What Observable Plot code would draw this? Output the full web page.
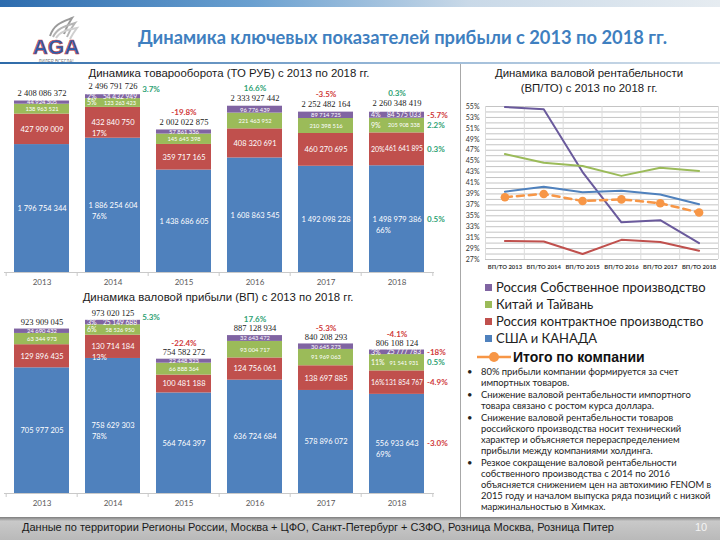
<!DOCTYPE html>
<html><head><meta charset="utf-8">
<script src="https://cdn.jsdelivr.net/npm/d3@7"></script>
<script src="https://cdn.jsdelivr.net/npm/@observablehq/plot@0.6"></script>
<style>
body{margin:0;width:720px;height:540px;overflow:hidden;background:#fff;position:relative;font-family:"Liberation Sans",Arial,sans-serif}
.abs{position:absolute}
.ctitle{position:absolute;font-size:11.4px;color:#1a1a1a;white-space:nowrap;transform:translateX(-50%);text-align:center;line-height:15px}
#legend .it{position:absolute;left:30px;font-family:Lato,sans-serif;font-size:13px;color:#222;white-space:nowrap;line-height:16px}
#legend .sw{display:inline-block;width:7px;height:7px;margin-right:4px;vertical-align:1px}
#bul{position:absolute;left:466px;top:366px;font-family:Lato,sans-serif;font-size:9.4px;color:#222;line-height:11px}
#bul .b{position:relative;padding-left:15px;white-space:nowrap;margin-bottom:1px}
#bul .b:before{content:"•";position:absolute;left:1px;top:0}
</style></head><body>
<div class="abs" style="left:0;top:0;width:720px;height:7px;background:linear-gradient(to right,#2d6cae,#6aa0d0 35%,#c9d9e8 65%,#e6ecf1)"></div>
<svg class="abs" style="left:28px;top:10px" width="60" height="56">
  <path d="M22 26 C26 14,34 12,44 8 C40 14,38 18,36 24" fill="none" stroke="#9a9a9a" stroke-width="2"/>
  <path d="M25 27 C29 18,37 16,47 13 C43 18,41 22,39 27" fill="none" stroke="#b5b5b5" stroke-width="2"/>
  <path d="M28 28 C32 21,40 20,49 18 C46 22,44 25,42 29" fill="none" stroke="#cfcfcf" stroke-width="2"/>
  <text x="28" y="44" text-anchor="middle" font-family="Liberation Sans" font-weight="bold" font-size="21" fill="#2a5fae" stroke="#c83a3a" stroke-width="0.6">AGA</text>
  <text x="28" y="53" text-anchor="middle" font-family="Liberation Sans" font-size="4.5" fill="#777">ЛИДЕР ВСЕГДА!</text>
</svg>
<div class="abs" style="left:138px;top:26px;font-family:Lato,sans-serif;font-weight:bold;font-size:18.3px;color:#3f7fc0;white-space:nowrap">Динамика ключевых показателей прибыли с 2013 по 2018 гг.</div>
<div class="abs" style="left:0;top:62px;width:720px;height:2px;background:linear-gradient(to right,#2d6aa8,#8fb2d4 50%,#d5e0ea)"></div>
<div class="abs" style="left:460px;top:64px;width:1px;height:453px;background:#a8a8a8"></div>

<div class="ctitle" style="left:229px;top:66px">Динамика товарооборота (ТО РУБ) с 2013 по 2018 гг.</div>
<div class="ctitle" style="left:218px;top:290px">Динамика валовой прибыли (ВП) с 2013 по 2018 гг.</div>
<div class="ctitle" style="left:589px;top:66px">Динамика валовой рентабельности<br>(ВП/ТО) с 2013 по 2018 гг.</div>

<div id="c1" class="abs" style="left:0;top:80px"></div>
<div id="c2" class="abs" style="left:0;top:304px"></div>
<div id="c3" class="abs" style="left:455px;top:98px"></div>

<div id="legend" class="abs" style="left:455px;top:279px;width:265px;height:90px"></div>
<div id="bul"></div>

<div class="abs" style="left:0;top:517px;width:720px;height:23px;background:linear-gradient(to bottom,#7d7d7d 0,#c9c9c9 18%,#b9b9b9 100%)"></div>
<div class="abs" style="left:22px;top:521px;font-family:'Liberation Sans',sans-serif;font-size:11px;color:#1a1a1a;white-space:nowrap">Данные по территории Регионы России, Москва + ЦФО, Санкт-Петербург + СЗФО, Розница Москва, Розница Питер</div>
<div class="abs" style="left:695px;top:521px;font-family:'Liberation Sans',sans-serif;font-size:11px;color:#f4f4f4">10</div>

<script>
// ---------- data ----------
const years = ["2013","2014","2015","2016","2017","2018"];
const seriesKeys = ["usa","ruc","cn","ruo"]; // bottom -> top
const seriesNames = ["США и КАНАДА","Россия контрактное производство","Китай и Тайвань","Россия Собственное производство"];
const seriesColors = ["#4F81BD","#C0504D","#9BBB59","#8064A2"];

// Товарооборот (ТО РУБ)
const toUSA = [1796754344,1886254604,1438686605,1608863545,1492098228,1498979386];
const toRuC = [427909009,432840750,359717165,408320691,460270695,461641895];
const toCN  = [138963521,123263423,145645398,221463952,210398516,205908338];
const toRuO = [44924305,54432949,57861336,96776439,89714725,84575033];
const toTotal = [2408086372,2496791726,2002022875,2333927442,2252482164,2260348419];
const toTotalChange = ["","3.7%","-19.8%","16.6%","-3.5%","0.3%"];
const toShare2014 = ["76%","17%","5%","2%"];
const toShare2018 = ["66%","20%","9%","4%"];
const toChange2018 = ["0.5%","0.3%","2.2%","-5.7%"];

// Валовая прибыль (ВП)
const vpUSA = [705977205,758629303,564764397,636724684,578896072,556933643];
const vpRuC = [129896435,130714184,100481188,124756061,138697885,131854767];
const vpCN  = [63344973,58526950,66888364,93004717,91969063,91541931];
const vpRuO = [24690432,25149688,22448323,32643472,30645273,25777783];
const vpTotal = [923909045,973020125,754582272,887128934,840208293,806108124];
const vpTotalChange = ["","5.3%","-22.4%","17.6%","-5.3%","-4.1%"];
const vpShare2014 = ["78%","13%","6%","3%"];
const vpShare2018 = ["69%","16%","11%","3%"];
const vpChange2018 = ["-3.0%","-4.9%","0.5%","-18%"];

// Валовая рентабельность (ВП/ТО), %
const gmCats = ["ВП/ТО 2013","ВП/ТО 2014","ВП/ТО 2015","ВП/ТО 2016","ВП/ТО 2017","ВП/ТО 2018"];
const gmRuO = [54.9,54.5,43.0,33.8,34.2,30.0];
const gmCN  = [46.3,44.7,44.1,42.3,43.8,43.2];
const gmRuC = [30.4,30.3,28.0,30.6,30.2,28.6];
const gmUSA = [39.4,40.3,39.3,39.6,38.9,37.1];
const gmTotal = [38.4,39.0,37.7,38.0,37.3,35.6];
const gmTotalName = "Итого по компании";
const gmTotalColor = "#F79646";

const bullets = [
  ["80% прибыли компании формируется за счет","импортных товаров."],
  ["Снижение валовой рентабельности импортного","товара связано с ростом курса доллара."],
  ["Снижение валовой рентабельности товаров","российского производства носит технический","характер и объясняется перераспределением","прибыли между компаниями холдинга."],
  ["Резкое сокращение валовой рентабельности","собственного производства с 2014 по 2016","объясняется снижением цен на автохимию FENOM в","2015 году и началом выпуска ряда позиций с низкой","маржинальностью в Химках."]
];

// ---------- helpers ----------
const fmt = v => d3.format(",")(v).replace(/,/g, "\u00a0");
const RED = "#D03A3A", GREEN = "#2EA274";

function buildRows(cols, share2014, share2018) {
  const rows = [];
  years.forEach((y, i) => seriesKeys.forEach((k, j) => {
    const pct = y === "2014" ? share2014[j] : y === "2018" ? share2018[j] : null;
    rows.push({year: y, key: k, value: cols[j][i], pct});
  }));
  return rows;
}

function stacked(rows, totals, changes, segChanges, cfg) {
  const W = 460, ML = 4, MR = 26;
  const step = (W - ML - MR) / years.length;
  const order = seriesKeys;
  const S = o => Plot.stackY({x: "year", y: "value", z: "key", order, ...o});
  const below = d => d.key === "usa" || (d.key === "ruc" && d.year === "2014");
  const inline = d => d.pct && !below(d);
  const big = d => d.key === "usa" || d.key === "ruc";
  const last = years[years.length - 1];
  const segCh = d => d.year === last ? segChanges[seriesKeys.indexOf(d.key)] : null;
  const neg = s => s && s.startsWith("-");
  const tot = years.map((y, i) => ({year: y, total: totals[i], change: changes[i], i}));
  return Plot.plot({
    width: W, height: cfg.height, marginLeft: ML, marginRight: MR, marginTop: cfg.mt, marginBottom: cfg.mb,
    x: {domain: years, paddingInner: 0.23, paddingOuter: 0.115, label: null},
    y: {domain: [0, cfg.yMax], axis: null},
    color: {domain: seriesKeys, range: seriesColors},
    style: {fontFamily: "Lato, sans-serif", fontSize: "8px", color: "#595959", background: "transparent", overflow: "visible"},
    marks: [
      Plot.barY(rows, S({fill: "key"})),
      Plot.ruleY([0], {stroke: "#c9c9c9"}),
      Plot.ruleX(years, {x: d => d, y1: 0, y2: 0, insetBottom: -4, dx: -step / 2, stroke: "#c9c9c9"}),
      Plot.ruleX([last], {x: d => d, y1: 0, y2: 0, insetBottom: -4, dx: step / 2, stroke: "#c9c9c9"}),
      Plot.axisX({tickSize: 0, tickPadding: 7, fontSize: 8, label: null}),
      // segment values
      Plot.text(rows, S({text: d => inline(d) ? null : fmt(d.value), fill: "white", fontSize: d => big(d) ? 7.5 : 5.8})),
      Plot.text(rows, S({text: d => inline(d) ? fmt(d.value) : null, dx: 7, fill: "white", fontSize: d => d.key === "cn" ? 5.6 : 6.6})),
      // shares
      Plot.text(rows, S({text: d => inline(d) ? d.pct : null, textAnchor: "start", dx: -26, fill: "white", fontSize: 7})),
      Plot.text(rows, S({text: d => d.pct && below(d) ? d.pct : null, textAnchor: "start", dx: -21, dy: 11, fill: "white", fontSize: 7.5})),
      // last-year segment changes
      Plot.text(rows, S({text: d => neg(segCh(d)) ? segCh(d) : null, textAnchor: "start", dx: 30, fill: RED, fontWeight: "bold", fontSize: 8})),
      Plot.text(rows, S({text: d => segCh(d) && !neg(segCh(d)) ? segCh(d) : null, textAnchor: "start", dx: 30, fill: GREEN, fontWeight: "bold", fontSize: 8})),
      // totals
      Plot.text(tot, {x: "year", y: "total", text: d => fmt(d.total), dy: cfg.totalDy, fill: "#222", fontFamily: "Liberation Serif, serif", fontSize: 8.5}),
      Plot.text(tot, {x: "year", y: "total", text: d => d.i > 1 && neg(d.change) ? d.change : null, dy: cfg.changeDy, fill: RED, fontWeight: "bold", fontSize: 8}),
      Plot.text(tot, {x: "year", y: "total", text: d => d.i > 1 && d.change && !neg(d.change) ? d.change : null, dy: cfg.changeDy, fill: GREEN, fontWeight: "bold", fontSize: 8}),
      Plot.text(tot, {x: "year", y: "total", text: d => d.i === 1 ? d.change : null, dx: 38, dy: cfg.firstDy, fill: GREEN, fontWeight: "bold", fontSize: 8})
    ]
  });
}

document.getElementById("c1").append(stacked(
  buildRows([toUSA, toRuC, toCN, toRuO], toShare2014, toShare2018),
  toTotal, toTotalChange, toChange2018,
  {height: 212, mt: 14, mb: 20, yMax: 2.5e9, totalDy: -8, changeDy: -18, firstDy: -5}));

document.getElementById("c2").append(stacked(
  buildRows([vpUSA, vpRuC, vpCN, vpRuO], vpShare2014, vpShare2018),
  vpTotal, vpTotalChange, vpChange2018,
  {height: 208, mt: 11, mb: 19, yMax: 1e9, totalDy: -7, changeDy: -16, firstDy: -3}));

// ---------- line chart ----------
const lineNames = [seriesNames[3], seriesNames[2], seriesNames[1], seriesNames[0]];
const lineColors = ["#6A5A9C", "#9BBB59", "#C0504D", "#4F81BD"];
const lineVals = [gmRuO, gmCN, gmRuC, gmUSA];
const lineRows = [];
lineVals.forEach((vals, s) => vals.forEach((v, i) => lineRows.push({i, v, s: lineNames[s]})));
const totRows = gmTotal.map((v, i) => ({i, v}));

document.getElementById("c3").append(Plot.plot({
  width: 265, height: 178, marginLeft: 30, marginRight: 2, marginTop: 8, marginBottom: 17,
  x: {type: "linear", domain: [-0.5, gmCats.length - 0.5]},
  y: {domain: [27, 55]},
  color: {domain: lineNames, range: lineColors},
  style: {fontFamily: "Lato, sans-serif", fontSize: "7px", color: "#333", background: "transparent", overflow: "visible"},
  marks: [
    Plot.ruleY(d3.range(27, 56, 1), {stroke: "#c4c4c4"}),
    Plot.ruleX(d3.range(-0.5, gmCats.length, 1), {stroke: "#dcdcdc"}),
    Plot.axisY({ticks: d3.range(27, 56, 2), tickFormat: d => d + "%", tickSize: 0, tickPadding: 6, fontSize: 7, label: null}),
    Plot.axisX({ticks: d3.range(0, gmCats.length), tickFormat: i => gmCats[i], tickSize: 0, tickPadding: 5, fontSize: 5.9, fontWeight: "bold", label: null}),
    Plot.line(lineRows, {x: "i", y: "v", z: "s", stroke: "s", strokeWidth: 2}),
    Plot.line(totRows, {x: "i", y: "v", stroke: gmTotalColor, strokeWidth: 2.5, strokeDasharray: "7,5"}),
    Plot.dot(totRows, {x: "i", y: "v", r: 4.3, fill: gmTotalColor})
  ]
}));

// ---------- legend ----------
const lg = document.getElementById("legend");
lineNames.forEach((n, k) => {
  const d = document.createElement("div");
  d.className = "it";
  d.style.top = (k * 17) + "px";
  d.innerHTML = `<span class="sw" style="background:${seriesColors[3 - k]}"></span>${n}`;
  lg.append(d);
});
const tl = document.createElement("div");
tl.style.cssText = "position:absolute;left:22px;top:69px;white-space:nowrap;font-family:'Liberation Sans',sans-serif;font-weight:bold;font-size:14px;color:#111;line-height:18px";
tl.innerHTML = `<svg width="34" height="12" style="vertical-align:-1px;margin-right:2px"><line x1="0" y1="6" x2="34" y2="6" stroke="${gmTotalColor}" stroke-width="2.5"/><circle cx="17" cy="6" r="5" fill="${gmTotalColor}"/></svg>${gmTotalName}`;
lg.append(tl);

const bl = document.getElementById("bul");
bullets.forEach(lines => {
  const d = document.createElement("div");
  d.className = "b";
  d.innerHTML = lines.join("<br>");
  bl.append(d);
});
</script>
</body></html>
